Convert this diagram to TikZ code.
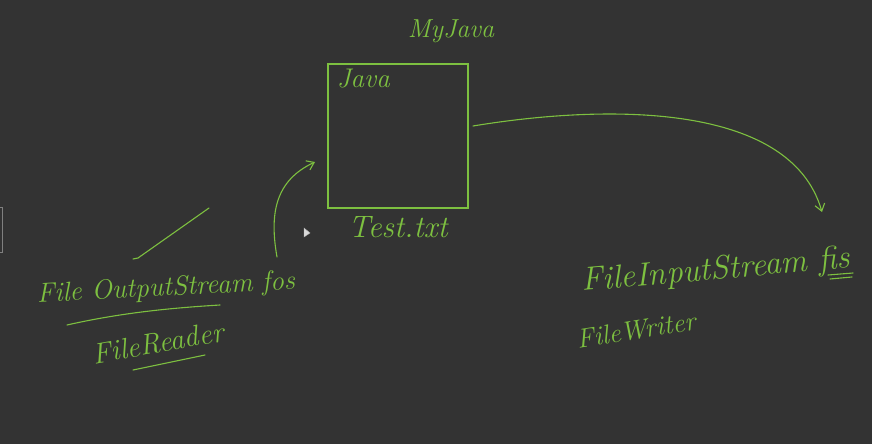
\documentclass[tikz,border=0pt]{standalone}
\usepackage{fontspec}
\usepackage{tikz}
\usetikzlibrary{arrows.meta,
  positioning
}
\definecolor{tafel}{RGB}{51,51,51}
\definecolor{kreide}{RGB}{125,192,64}

\begin{document}
\begin{tikzpicture}[x=1pt, y=1pt, >={Straight Barb[length=7pt, width=10pt]}, every node/.style={text=kreide, font=\itshape}]

        % Farben / Stile
        \tikzstyle{datei}=[draw=kreide, line width=1.4pt, rectangle, minimum width=140pt, minimum height=144pt]
        \tikzstyle{strich}=[draw=kreide, line width=1.1pt, line cap=round]

        % Hintergrund
        \fill[tafel] (0,0) rectangle (872,-444);
        \useasboundingbox (0,0) rectangle (872,-444);

        % Datei
        \node[datei] (datei) at (398,-136) {};
        \node[font=\itshape\fontsize{26}{28}\selectfont] (myjava) at (451,-31) {MyJava};
        \node[font=\itshape\fontsize{27}{30}\selectfont, below right=2pt and 6pt of datei.north west] (java) {Java};
        \node[font=\itshape\fontsize{31}{34}\selectfont, below=4pt of datei.south] (testtxt) {Test.txt};

        % Links: Streams
        \node[font=\itshape\fontsize{27.4}{30}\selectfont, rotate=3, inner sep=1pt] (fos) at (166,-289) {File OutputStream fos};
        \node[font=\itshape\fontsize{29}{32}\selectfont, rotate=10, inner sep=1pt] (reader) at (158,-343) {FileReader};

        % Rechts: Streams
        \node[font=\itshape\fontsize{33}{36}\selectfont, rotate=5] (fis) at (716,-271) {FileInputStream fis};
        \node[font=\itshape\fontsize{27}{30}\selectfont, rotate=9] (writer) at (636,-330) {FileWriter};

        % Punkte fuer freie Enden
        \coordinate (raus) at (473,-126);
        \coordinate (rein) at (822,-212);
        \coordinate (fosfuss) at (277,-257);
        \coordinate (dateilinks) at (315,-162);
        \coordinate (strichoben) at (209,-208);
        \coordinate (strichunten) at (138,-258);

        % Pfeile
        \draw[strich, ->] (raus) .. controls (600,-105) and (790,-100) .. (rein);
        \draw[strich, ->] (fosfuss) to[out=100, in=205, looseness=1.1] (dateilinks);

        % Striche und Unterstreichungen
        \draw[strich] (strichoben) -- (strichunten) -- ++(-5,-1);
        \draw[strich] (67,-325) .. controls (120,-313) and (170,-308) .. (220,-305);
        \draw[strich] (133,-370) -- (205,-355);
        \draw[strich] (828,-275) -- (853,-273);
        \draw[strich] (830,-279) -- (852,-277);

        % Bildschirmreste
        \draw[gray, line width=0.6pt] (-1,-207) rectangle (2,-252);
        \draw[gray!60, fill=gray!30, line width=0.4pt] (304,-228) -- (304,-237) -- (310,-233) -- cycle;
        \end{tikzpicture}
\end{document}
